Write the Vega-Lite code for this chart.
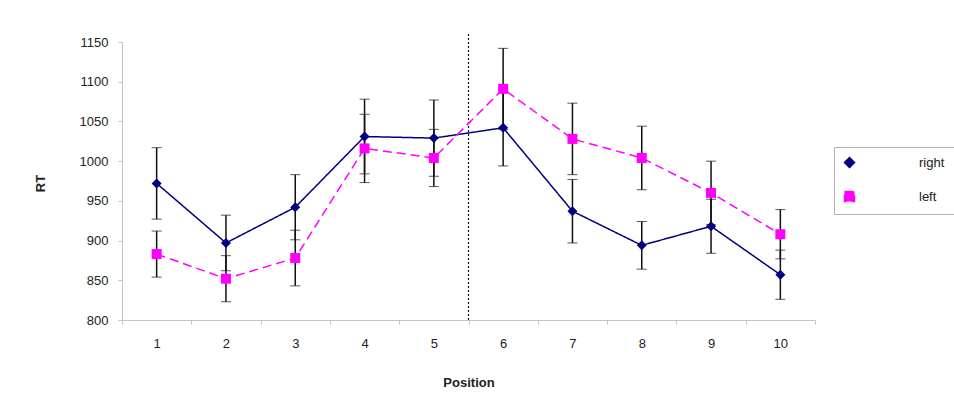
{
  "$schema": "https://vega.github.io/schema/vega-lite/v6.json",
  "width": 693,
  "height": 278,
  "autosize": "none",
  "padding": {"left": 122, "top": 42, "right": 139, "bottom": 98},
  "background": "white",
  "config": {
    "view": {"stroke": null},
    "font": "Liberation Sans",
    "axis": {"labelFont": "Liberation Sans", "titleFont": "Liberation Sans", "labelFontSize": 13, "titleFontSize": 13, "labelColor": "#222", "titleColor": "#222", "titleFontWeight": "bold", "domainColor": "#c4c4c4", "tickColor": "#c4c4c4", "tickSize": 4, "grid": false}
  },
  "datasets": {
    "series": [
      {"pos": 1, "side": "right", "mean": 972, "err": 45},
      {"pos": 2, "side": "right", "mean": 897, "err": 35},
      {"pos": 3, "side": "right", "mean": 942, "err": 41},
      {"pos": 4, "side": "right", "mean": 1031, "err": 47},
      {"pos": 5, "side": "right", "mean": 1029, "err": 48},
      {"pos": 6, "side": "right", "mean": 1042, "err": 48},
      {"pos": 7, "side": "right", "mean": 937, "err": 40},
      {"pos": 8, "side": "right", "mean": 894, "err": 30},
      {"pos": 9, "side": "right", "mean": 918, "err": 34},
      {"pos": 10, "side": "right", "mean": 857, "err": 31},
      {"pos": 1, "side": "left", "mean": 883, "err": 29},
      {"pos": 2, "side": "left", "mean": 852, "err": 29},
      {"pos": 3, "side": "left", "mean": 878, "err": 35},
      {"pos": 4, "side": "left", "mean": 1016, "err": 43},
      {"pos": 5, "side": "left", "mean": 1004, "err": 36},
      {"pos": 6, "side": "left", "mean": 1091, "err": 51},
      {"pos": 7, "side": "left", "mean": 1028, "err": 45},
      {"pos": 8, "side": "left", "mean": 1004, "err": 40},
      {"pos": 9, "side": "left", "mean": 960, "err": 40},
      {"pos": 10, "side": "left", "mean": 908, "err": 31}
    ],
    "sep": [{"pos": 6, "y0": 800, "y1": 1161}]
  },
  "encoding": {
    "x": {
      "field": "pos", "type": "ordinal",
      "scale": {"type": "band", "paddingInner": 0, "paddingOuter": 0},
      "axis": {"title": "Position", "labelAngle": 0, "tickBand": "extent", "labelPadding": 13, "titleY": 62, "titleBaseline": "middle"}
    },
    "y": {
      "type": "quantitative",
      "scale": {"domain": [800, 1150], "nice": false, "zero": false},
      "axis": {"title": "RT", "format": "d", "values": [800, 850, 900, 950, 1000, 1050, 1100, 1150], "labelPadding": 10, "titleX": -82, "titleY": 141, "titleBaseline": "middle", "titleAngle": -90}
    }
  },
  "layer": [
    {
      "data": {"name": "sep"},
      "mark": {"type": "rule", "color": "#111", "strokeDash": [2, 2], "strokeWidth": 1.2},
      "encoding": {
        "x": {"field": "pos", "type": "ordinal", "bandPosition": 0},
        "y": {"field": "y0", "type": "quantitative"},
        "y2": {"field": "y1"}
      }
    },
    {
      "data": {"name": "series"},
      "mark": {"type": "errorbar", "ticks": {"size": 10, "color": "#111", "strokeWidth": 1.5}, "rule": {"color": "#111", "strokeWidth": 1.5}},
      "encoding": {
        "y": {"field": "mean", "type": "quantitative"},
        "yError": {"field": "err"},
        "detail": {"field": "side"}
      }
    },
    {
      "data": {"name": "series"},
      "mark": {"type": "line", "strokeWidth": 1.5},
      "encoding": {
        "x": {"field": "pos", "type": "ordinal", "bandPosition": 0.5},
        "y": {"field": "mean", "type": "quantitative"},
        "color": {
          "field": "side", "type": "nominal",
          "scale": {"domain": ["right", "left"], "range": ["#000080", "#ff00ff"]},
          "legend": {
            "title": null, "orient": "none", "legendX": 712, "legendY": 105,
            "padding": 9, "strokeColor": "#b4b4b4", "fillColor": "white",
            "labelFont": "Liberation Sans", "labelFontSize": 13, "labelColor": "#222",
            "symbolSize": 100, "labelOffset": 63, "rowPadding": 17,
            "encode": {
              "symbols": {
                "update": {
                  "shape": {"signal": "datum.value === 'right' ? 'M-1,0H12.6M4.8,0L5.8,-1.05L6.8,0L5.8,1.05Z' : 'M-1,0H0.4M2.4,0H4.6M7,0H9.2M11.2,0H12.6M4.7,-1.1H6.9V1.1H4.7Z'"},
                  "fill": {"signal": "datum.value === 'right' ? '#000080' : '#ff00ff'"},
                  "stroke": {"signal": "datum.value === 'right' ? '#000080' : '#ff00ff'"},
                  "strokeWidth": {"value": 1.5},
                  "opacity": {"value": 1}
                }
              }
            }
          }
        },
        "strokeDash": {"field": "side", "type": "nominal", "scale": {"domain": ["right", "left"], "range": [[1, 0], [9, 5]]}, "legend": null}
      }
    },
    {
      "data": {"name": "series"},
      "mark": {"type": "point", "filled": true, "opacity": 1, "size": 100},
      "encoding": {
        "x": {"field": "pos", "type": "ordinal", "bandPosition": 0.5},
        "y": {"field": "mean", "type": "quantitative"},
        "color": {"field": "side", "type": "nominal"},
        "shape": {"field": "side", "type": "nominal", "scale": {"domain": ["right", "left"], "range": ["diamond", "square"]}, "legend": null}
      }
    }
  ]
}
